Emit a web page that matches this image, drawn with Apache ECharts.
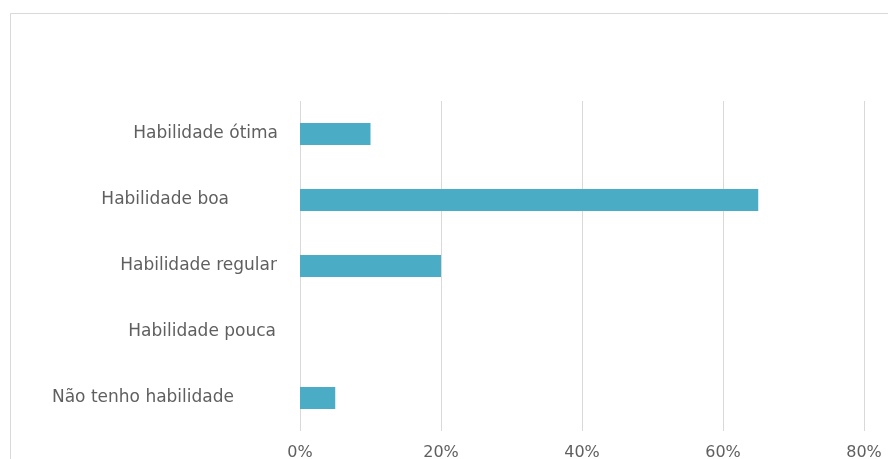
<!DOCTYPE html>
<html><head><meta charset="utf-8">
<script src="https://cdn.jsdelivr.net/npm/echarts@6/dist/echarts.min.js"></script>
<style>html,body{margin:0;padding:0;background:#fff;}#c{width:888px;height:459px;}</style>
</head><body><div id="c"></div>
<script>
const categories = ["Habilidade ótima", "Habilidade boa", "Habilidade regular", "Habilidade pouca", "Não tenho habilidade"];
const values = [10, 65, 20, 0, 5];
const xTicks = [0, 20, 40, 60, 80];
const labelPad = [22, 71, 23, 24, 66];

const chart = echarts.init(document.getElementById('c'));
const rich = {};
labelPad.forEach((p, i) => { rich['p' + i] = { padding: [0, p, 0, 0], fontFamily: 'DejaVu Sans', fontSize: 17, color: '#5f5f5f' }; });
chart.setOption({
  animation: false,
  backgroundColor: '#fff',
  graphic: [{ type: 'rect', shape: { x: 10.5, y: 13.5, width: 1000, height: 1000 }, style: { fill: 'none', stroke: '#d9d9d9', lineWidth: 1 }, silent: true }],
  grid: { left: 300, right: 24, top: 101, bottom: 28, containLabel: false, outerBoundsMode: 'none' },
  xAxis: {
    type: 'value', min: 0, max: 80, interval: 20,
    axisLine: { show: false }, axisTick: { show: false },
    splitLine: { lineStyle: { color: '#d9d9d9', width: 1 } },
    axisLabel: { formatter: v => xTicks.includes(v) ? v + '%' : '', fontFamily: 'DejaVu Sans', fontSize: 16, color: '#5f5f5f', margin: 14 }
  },
  yAxis: {
    type: 'category', data: categories, inverse: true,
    axisLine: { show: false }, axisTick: { show: false },
    axisLabel: { margin: 0, formatter: (v, i) => '{p' + i + '|' + v + '}', rich: rich }
  },
  series: [{
    type: 'bar', data: values, barWidth: '33%',
    itemStyle: { color: '#4bacc6' }
  }]
});
</script></body></html>
